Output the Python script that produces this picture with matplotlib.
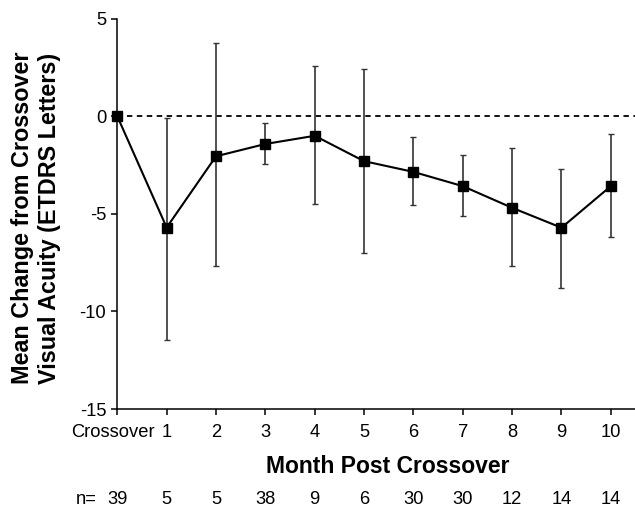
import matplotlib
matplotlib.use("Agg")
import matplotlib.pyplot as plt
import matplotlib.transforms as mtransforms
import numpy as np

plt.rcParams['font.family'] = ['Liberation Sans', 'DejaVu Sans']

months = [0, 1, 2, 3, 4, 5, 6, 7, 8, 9, 10]
tick_labels = ["Crossover", "1", "2", "3", "4", "5", "6", "7", "8", "9", "10"]
mean_change = [0.0, -5.7, -2.05, -1.42, -1.0, -2.3, -2.85, -3.58, -4.69, -5.71, -3.58]
upper = [0.0, -0.1, 3.77, -0.37, 2.56, 2.42, -1.07, -2.0, -1.64, -2.71, -0.9]
lower = [0.0, -11.47, -7.69, -2.46, -4.52, -7.02, -4.54, -5.13, -7.66, -8.82, -6.17]
n_counts = ["39", "5", "5", "38", "9", "6", "30", "30", "12", "14", "14"]

W, H = 635, 508
fig = plt.figure(figsize=(W / 100, H / 100), dpi=100)
ax = fig.add_axes([117.3 / W, 1 - 409 / H, 1 - 117.3 / W, (409 - 18.7) / H])

x = np.array(months)
y = np.array(mean_change)
yerr = np.vstack([y - np.array(lower), np.array(upper) - y])

ax.axhline(0, color='black', lw=1.3, ls=(0, (3, 2.5)), zorder=1)
ax.errorbar(x[1:], y[1:], yerr=yerr[:, 1:], fmt='none', ecolor='#333333',
            elinewidth=1.2, capsize=2.0, capthick=1.0, zorder=2)
ax.plot(x, y, color='black', lw=1.5, marker='s', markersize=7.2,
        markerfacecolor='black', markeredgecolor='black', zorder=3, clip_on=False)

ax.set_xlim(0, 10.49)
ax.set_ylim(-15, 5)
ax.set_yticks([-15, -10, -5, 0, 5])
ax.set_yticklabels(["-15", "-10", "-5", "0", "5"])
ax.set_xticks(months)
ax.set_xticklabels(tick_labels)

for s in ['top', 'right']:
    ax.spines[s].set_visible(False)
for s in ['left', 'bottom']:
    ax.spines[s].set_linewidth(1.1)

fs = 13.2
ax.tick_params(axis='both', direction='out', width=1.1, labelsize=fs, colors='black')
ax.tick_params(axis='x', length=4, pad=6.5)
ax.tick_params(axis='y', length=4.5, pad=3.5)

# shift the "Crossover" label slightly left, as in the reference
lbl0 = ax.get_xticklabels()[0]
lbl0.set_transform(lbl0.get_transform() +
                   mtransforms.ScaledTranslation(-4.5 / 100, 0, fig.dpi_scale_trans))

# n row
trans = mtransforms.blended_transform_factory(ax.transData, fig.transFigure)
for xi, nc in zip(months, n_counts):
    ax.text(xi, 1 - 504 / H, nc, transform=trans, ha='center', va='baseline',
            fontsize=fs, clip_on=False)
ax.text(-0.41, 1 - 504 / H, "n=", transform=trans, ha='right', va='baseline',
        fontsize=fs, clip_on=False)

# axis labels
fig.text(388 / W, 1 - 473 / H, "Month Post Crossover", ha='center', va='baseline',
         fontsize=16.5, fontweight='bold')
fig.text(29.3 / W, 1 - 218 / H, "Mean Change from Crossover", ha='center',
         va='baseline', rotation=90, rotation_mode='anchor', fontsize=16.8,
         fontweight='bold')
fig.text(56 / W, 1 - 218 / H, "Visual Acuity (ETDRS Letters)", ha='center',
         va='baseline', rotation=90, rotation_mode='anchor', fontsize=16.8,
         fontweight='bold')

fig.savefig("out.png", dpi=100)
